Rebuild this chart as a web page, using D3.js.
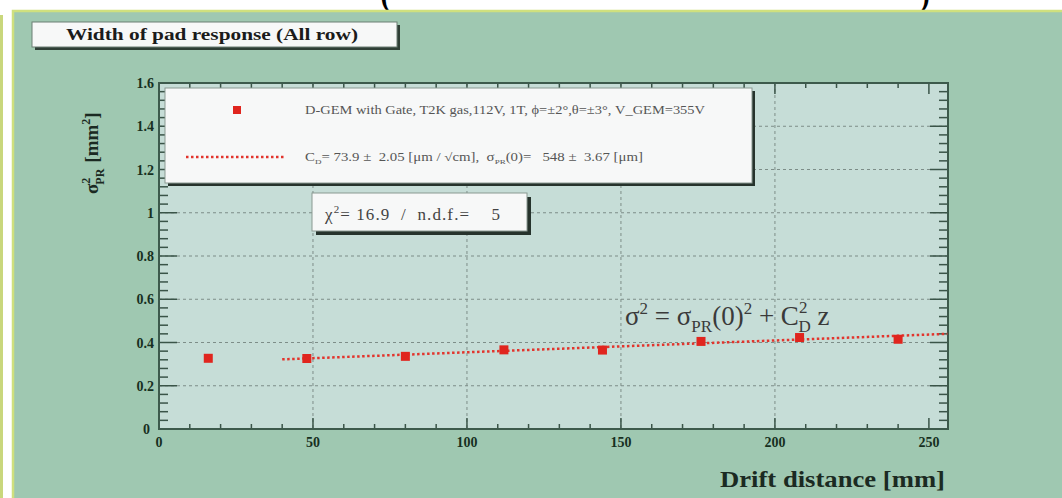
<!DOCTYPE html>
<html><head><meta charset="utf-8">
<script src="https://cdn.jsdelivr.net/npm/d3@7"></script>
<style>body{margin:0;background:#fff;overflow:hidden}svg{display:block}text{font-family:"Liberation Serif","Times New Roman",serif}</style>
</head><body><svg id="c" width="1062" height="498"></svg>
<script>
// ---- data ----
const driftDistance = [16, 48, 80, 112, 144, 176, 208, 240];
const sigma2 = [0.327, 0.326, 0.336, 0.366, 0.365, 0.405, 0.423, 0.415];
const fitLineX = [40, 256];
const fitLineY = [0.322, 0.440];
const xTicks = [0, 50, 100, 150, 200, 250];
const yTicks = [0, 0.2, 0.4, 0.6, 0.8, 1, 1.2, 1.4, 1.6];
const yTickLabels = ["0", "0.2", "0.4", "0.6", "0.8", "1", "1.2", "1.4", "1.6"];

const svg = d3.select("#c");
const W = 1062, H = 498;
const F = {l: 159, r: 948, t: 83, b: 429};
const x = d3.scaleLinear().domain([0, 256.2]).range([F.l, F.r]);
const y = d3.scaleLinear().domain([0, 1.6]).range([F.b, F.t]);

// bottom of large parentheses from text above the panel (partly hidden)
svg.append("text").attr("x", 380).attr("y", 6).attr("font-size", 40).attr("fill", "#000").text("(");
svg.append("text").attr("x", 917).attr("y", 6).attr("font-size", 40).attr("fill", "#000").text(")");

// left strip
svg.append("rect").attr("x", 0).attr("y", 15).attr("width", 3).attr("height", H - 15).attr("fill", "#c9d77c");
// main panel
svg.append("rect").attr("x", 12).attr("y", 10).attr("width", W - 12).attr("height", H - 10)
  .attr("fill", "#9fc8b1");
svg.append("path").attr("d", `M13,${H} V11 H${W}`).attr("fill", "none").attr("stroke", "#cfe07e").attr("stroke-width", 2.5);

// title box
svg.append("rect").attr("x", 35).attr("y", 25).attr("width", 365).attr("height", 25).attr("fill", "#2f3f36");
svg.append("rect").attr("x", 32).attr("y", 22).attr("width", 365).attr("height", 25).attr("fill", "#f7f8f8").attr("stroke", "#6d7f75").attr("stroke-width", 1);
svg.append("text").attr("x", 66).attr("y", 40).attr("font-size", 17).attr("font-weight", "bold").attr("fill", "#1b1b1b")
  .attr("textLength", 292).attr("lengthAdjust", "spacingAndGlyphs").text("Width of pad response (All row)");

// plot area
svg.append("rect").attr("x", F.l).attr("y", F.t).attr("width", F.r - F.l).attr("height", F.b - F.t).attr("fill", "#c6ddd7");

// grid
const g = svg.append("g");
g.selectAll(".gx").data(xTicks.filter(d => d > 0 && d < 250)).join("line")
  .attr("x1", d => x(d)).attr("x2", d => x(d)).attr("y1", F.t).attr("y2", F.b)
  .attr("stroke", "#7d8d88").attr("stroke-width", 1).attr("stroke-dasharray", "3,3");
g.selectAll(".gy").data(yTicks.filter(d => d > 0 && d < 1.6)).join("line")
  .attr("x1", F.l).attr("x2", F.r).attr("y1", d => y(d)).attr("y2", d => y(d))
  .attr("stroke", "#7d8d88").attr("stroke-width", 1).attr("stroke-dasharray", "3,3");

// ticks
const tickCol = "#3a5448";
const xMinor = d3.range(0, 256, 10);
const yMinor = d3.range(0, 1.601, 0.04);
const tk = svg.append("g").attr("stroke", tickCol).attr("stroke-width", 1.5);
xMinor.forEach(v => {
  const L = (v % 50 === 0) ? 11 : 5;
  tk.append("line").attr("x1", x(v)).attr("x2", x(v)).attr("y1", F.b).attr("y2", F.b - L);
  tk.append("line").attr("x1", x(v)).attr("x2", x(v)).attr("y1", F.t).attr("y2", F.t + L);
});
yMinor.forEach((v, i) => {
  const L = (i % 5 === 0) ? 18 : 9;
  tk.append("line").attr("x1", F.l).attr("x2", F.l + L).attr("y1", y(v)).attr("y2", y(v));
  tk.append("line").attr("x1", F.r).attr("x2", F.r - L).attr("y1", y(v)).attr("y2", y(v));
});
// frame
svg.append("rect").attr("x", F.l).attr("y", F.t).attr("width", F.r - F.l).attr("height", F.b - F.t)
  .attr("fill", "none").attr("stroke", "#3d5a4c").attr("stroke-width", 2);

// tick labels
const labCol = "#17301f";
svg.append("g").selectAll("text").data(xTicks).join("text")
  .attr("x", d => x(d)).attr("y", 447).attr("text-anchor", "middle")
  .attr("font-size", 14).attr("font-weight", "bold").attr("fill", labCol).text(d => d);
svg.append("g").selectAll("text").data(yTicks).join("text")
  .attr("x", (d, i) => i === 0 ? 150 : 154).attr("y", d => y(d) + 5).attr("text-anchor", "end")
  .attr("font-size", 14).attr("font-weight", "bold").attr("fill", labCol).text((d, i) => yTickLabels[i]);

// axis titles
svg.append("text").attr("x", 945).attr("y", 487).attr("text-anchor", "end").attr("font-size", 24)
  .attr("font-weight", "bold").attr("fill", "#1b2a22").attr("textLength", 225).attr("lengthAdjust", "spacingAndGlyphs")
  .text("Drift distance [mm]");
const yl = svg.append("text").attr("transform", "translate(98,194) rotate(-90)").attr("font-size", 19)
  .attr("font-weight", "bold").attr("fill", "#1b2a22");
yl.append("tspan").text("σ");
yl.append("tspan").attr("font-size", 12).attr("dy", -8).attr("dx", 0).text("2");
yl.append("tspan").attr("font-size", 12).attr("dy", 14).attr("dx", -7).text("PR");
yl.append("tspan").attr("dy", -6).attr("dx", 6).text("[mm");
yl.append("tspan").attr("font-size", 12).attr("dy", -8).text("2");
yl.append("tspan").attr("dy", 8).text("]");

// fit line
svg.append("line").attr("x1", x(fitLineX[0])).attr("y1", y(fitLineY[0])).attr("x2", x(fitLineX[1])).attr("y2", y(fitLineY[1]))
  .attr("stroke", "#e2342c").attr("stroke-width", 2.5).attr("stroke-dasharray", "2.5,2.5");

// data markers
svg.append("g").selectAll("rect").data(driftDistance).join("rect")
  .attr("x", d => x(d) - 4.5).attr("y", (d, i) => y(sigma2[i]) - 4.5).attr("width", 9).attr("height", 9)
  .attr("fill", "#e0251e");

// legend box
svg.append("rect").attr("x", 168).attr("y", 91).attr("width", 587).attr("height", 95).attr("fill", "#26332c");
svg.append("rect").attr("x", 165).attr("y", 88).attr("width", 587).attr("height", 95).attr("fill", "#f7f8f8").attr("stroke", "#8a9a92").attr("stroke-width", 1);
svg.append("rect").attr("x", 233).attr("y", 106).attr("width", 8).attr("height", 8).attr("fill", "#e0251e");
svg.append("text").attr("x", 305).attr("y", 114).attr("font-size", 11.5).attr("fill", "#555")
  .attr("textLength", 400).attr("lengthAdjust", "spacingAndGlyphs")
  .text("D-GEM with Gate, T2K gas,112V, 1T, ϕ=±2°,θ=±3°, V_GEM=355V");
svg.append("line").attr("x1", 186).attr("x2", 286).attr("y1", 157).attr("y2", 157)
  .attr("stroke", "#e2342c").attr("stroke-width", 2.5).attr("stroke-dasharray", "2.5,2.5");
const lt = svg.append("text").attr("x", 305).attr("y", 161).attr("font-size", 11.5).attr("fill", "#555")
  .attr("style", "white-space:pre").attr("textLength", 338).attr("lengthAdjust", "spacingAndGlyphs");
lt.append("tspan").text("C");
lt.append("tspan").attr("font-size", 7).attr("dy", 3).text("D");
lt.append("tspan").attr("dy", -3).text("= 73.9 ±  2.05 [μm / √cm],  σ");
lt.append("tspan").attr("font-size", 7).attr("dy", 3).text("PR");
lt.append("tspan").attr("dy", -3).text("(0)=   548 ±  3.67 [μm]");

// chi2 box
svg.append("rect").attr("x", 316).attr("y", 197).attr("width", 215).attr("height", 38).attr("fill", "#26332c");
svg.append("rect").attr("x", 312).attr("y", 193).attr("width", 215).attr("height", 38).attr("fill", "#f7f8f8").attr("stroke", "#8a9a92").attr("stroke-width", 1);
const ct = svg.append("text").attr("x", 325).attr("y", 220).attr("font-size", 17).attr("fill", "#444")
  .attr("style", "white-space:pre").attr("textLength", 175).attr("lengthAdjust", "spacing");
ct.append("tspan").text("χ");
ct.append("tspan").attr("font-size", 11).attr("dy", -7).text("2");
ct.append("tspan").attr("dy", 7).text("= 16.9  /  n.d.f.=    5");

// formula
const ft = svg.append("text").attr("x", 625).attr("y", 325).attr("font-size", 27).attr("fill", "#3a3a3a").attr("style", "white-space:pre");
ft.append("tspan").text("σ");
ft.append("tspan").attr("font-size", 17).attr("dy", -11).text("2");
ft.append("tspan").attr("dy", 11).text(" = σ");
ft.append("tspan").attr("font-size", 17).attr("dy", 7).text("PR");
ft.append("tspan").attr("dy", -7).text("(0)");
ft.append("tspan").attr("font-size", 17).attr("dy", -11).text("2");
ft.append("tspan").attr("dy", 11).text(" + C");
ft.append("tspan").attr("font-size", 17).attr("dy", -12).text("2");
ft.append("tspan").attr("font-size", 17).attr("dy", 19).attr("dx", -9).text("D");
ft.append("tspan").attr("dy", -7).text(" z");
</script></body></html>
